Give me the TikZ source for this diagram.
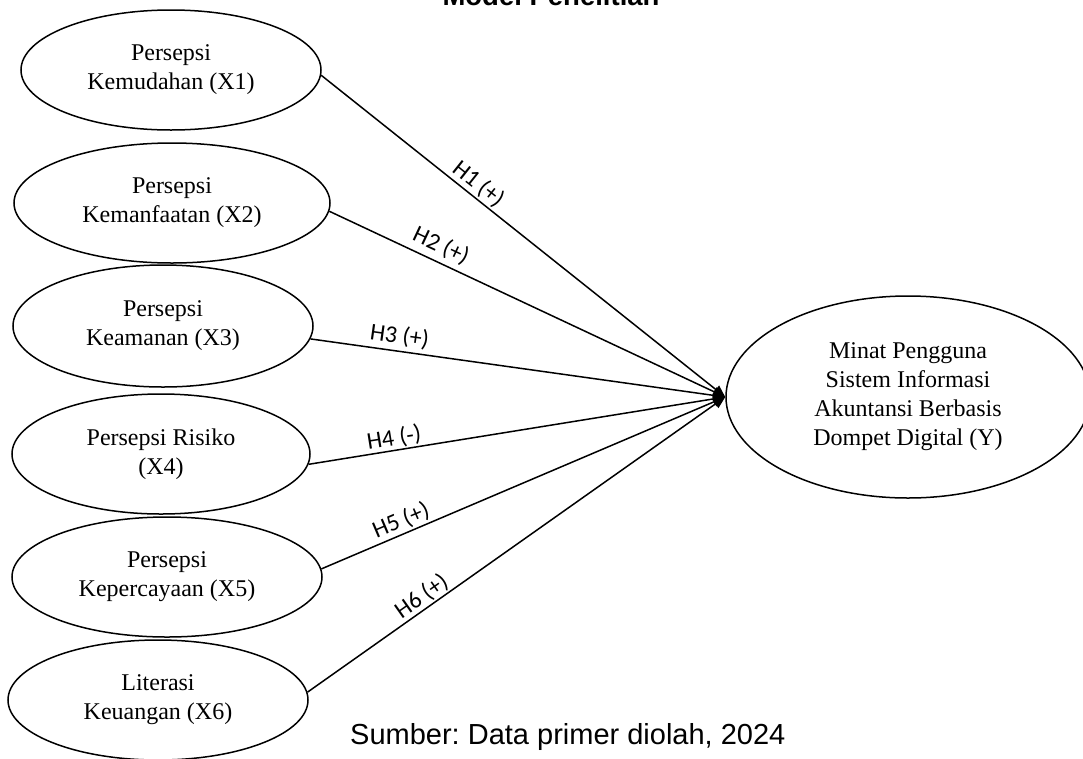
\documentclass[tikz,border=0pt]{standalone}
\usepackage{fontspec}
\setmainfont{Liberation Serif}
\newfontfamily\lblfont{Carlito}
\newfontfamily\arialfont{Liberation Sans}
\usetikzlibrary{shapes.geometric,arrows.meta}
\frenchspacing
\begin{document}
\begin{tikzpicture}[x=1pt,y=-1pt,
  var/.style={draw, ellipse, line width=1.5pt, inner sep=0pt, align=center,
    font=\fontsize{24}{29}\selectfont},
  conn/.style={line width=1.5pt, -{Triangle[length=12pt,width=10pt]}},
  hlabel/.style={sloped, above, font=\lblfont\fontsize{24}{28}\selectfont, inner sep=2pt}
]
\useasboundingbox (0,0) rectangle (1083,758);

\node[font=\arialfont\bfseries\fontsize{27.5}{30}\selectfont, anchor=base, inner sep=0pt] (title) at (551,5) {Model Penelitian};

\node[var, minimum width=300pt, minimum height=120pt] (X1) at (171,70) {Persepsi\\Kemudahan (X1)};
\node[var, minimum width=316pt, minimum height=120pt] (X2) at (172,203) {Persepsi\\Kemanfaatan (X2)};
\node[var, minimum width=300pt, minimum height=122pt] (X3) at (163,326) {Persepsi\\Keamanan (X3)};
\node[var, minimum width=298pt, minimum height=120pt] (X4) at (161,454) {Persepsi Risiko\\(X4)};
\node[var, minimum width=310pt, minimum height=120pt] (X5) at (167,577) {Persepsi\\Kepercayaan (X5)};
\node[var, minimum width=300pt, minimum height=120pt] (X6) at (158,700) {Literasi\\Keuangan (X6)};
\node[var, minimum width=364pt, minimum height=202pt] (Y) at (908,397) {Minat Pengguna\\Sistem Informasi\\Akuntansi Berbasis\\Dompet Digital (Y)};

\draw[conn] (X1.-2) -- node[hlabel, pos=0.37] {H1 (+)} (Y.west);
\draw[conn] (X2.-3) -- node[hlabel, pos=0.265, inner sep=5pt] {H2 (+)} (Y.west);
\draw[conn] (X3.-5) -- node[hlabel, pos=0.21, inner sep=4pt] {H3 (+)} (Y.west);
\draw[conn] (X4.-4) -- node[hlabel, pos=0.21, inner sep=1pt] {H4 (-)} (Y.west);
\draw[conn] (X5.3) -- node[hlabel, pos=0.21] {H5 (+)} (Y.west);
\draw[conn] (X6.3) -- node[hlabel, pos=0.29, inner sep=1pt] {H6 (+)} (Y.west);

\node[font=\arialfont\fontsize{29}{32}\selectfont, anchor=base west, inner sep=0pt] (src) at (350,744) {Sumber: Data primer diolah, 2024};
\end{tikzpicture}
\end{document}
